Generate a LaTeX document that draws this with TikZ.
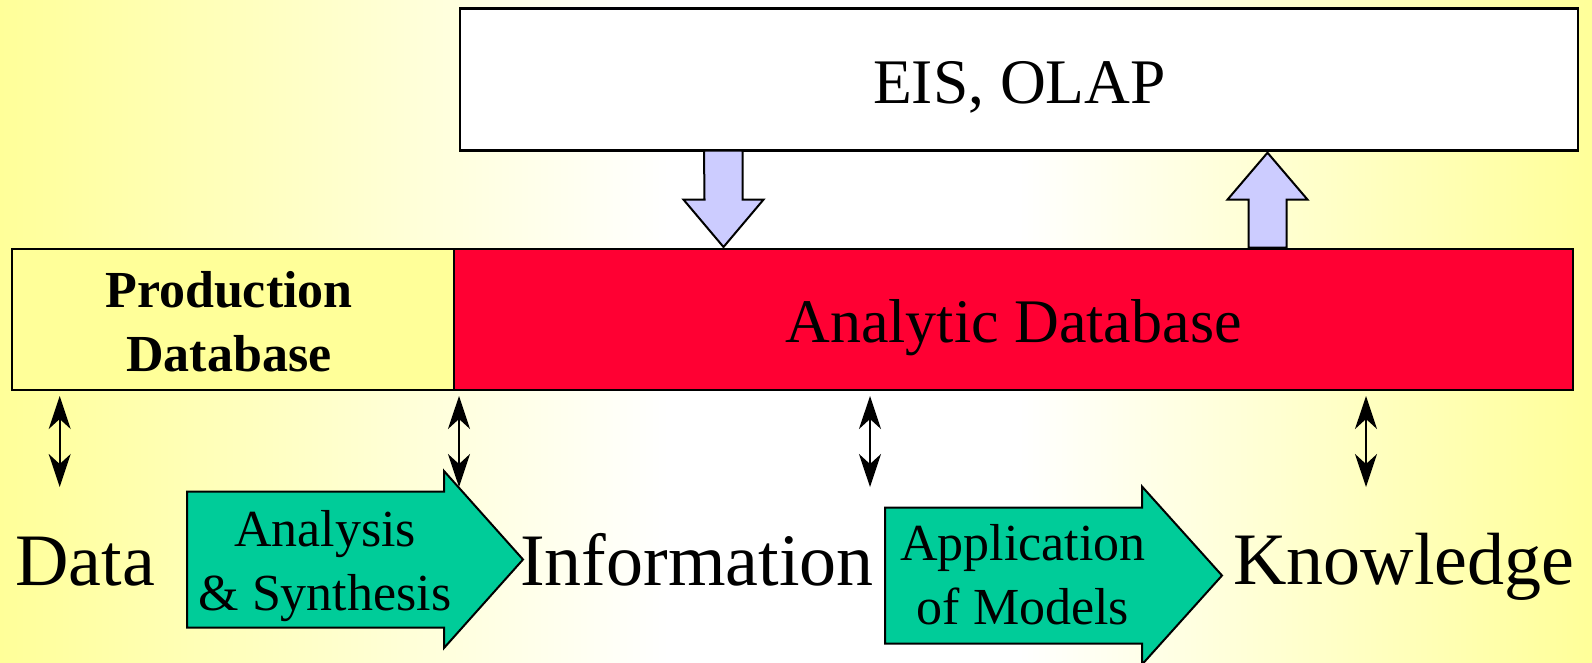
\documentclass[tikz,border=0pt]{standalone}
\usepackage{fontspec}
\setmainfont{Liberation Serif}
\usetikzlibrary{arrows.meta}

\definecolor{bgyellow}{RGB}{255,255,153}
\definecolor{dbred}{RGB}{255,0,51}
\definecolor{flowgreen}{RGB}{0,204,153}
\definecolor{liftblue}{RGB}{204,204,255}

% yellow at both edges, fading to white just right of the middle
\pgfdeclarehorizontalshading{bgfade}{100bp}{%
  color(0bp)=(bgyellow); color(25bp)=(bgyellow);
  color(46bp)=(white); color(57bp)=(white);
  color(75bp)=(bgyellow); color(100bp)=(bgyellow)}

\tikzset{
  box/.style={draw=black, line width=2.4pt, inner sep=0pt},
  bigword/.style={inner sep=0pt, font=\fontsize{74}{74}\selectfont},
  flowtext/.style={inner sep=0pt, align=center, font=\fontsize{52}{64}\selectfont},
  flowarrow/.style={draw=black, line width=2pt, fill=flowgreen, line join=miter},
  liftarrow/.style={draw=black, line width=2pt, fill=liftblue, line join=miter},
  linkarrow/.style={line width=1.8pt, {Stealth[length=33pt,width=22pt,inset=10pt]}-{Stealth[length=33pt,width=22pt,inset=10pt]}}
}

\begin{document}
\begin{tikzpicture}[x=1pt,y=-1pt]
  % background
  \shade[shading=bgfade] (0,0) rectangle (1592,662);
  \useasboundingbox (0,0) rectangle (1592,662);

  % boxes
  \node[box, fill=white, minimum width=1118pt, minimum height=142pt] (eis) at (1019,79.5) {};
  \node[anchor=base, inner sep=0pt, font=\fontsize{63.5}{64}\selectfont] (eistext) at (1019.5,103) {EIS, OLAP};

  \node[box, fill=bgyellow, minimum width=442pt, minimum height=141pt] (prod) at (233,319.5) {};
  \node[box, fill=dbred, minimum width=1119pt, minimum height=141pt] (anal) at (1013.5,319.5) {};
  % multi-line nodes: the base anchor sits on the last line
  \node[anchor=base, inner sep=0pt, align=center, font=\bfseries\fontsize{52}{64}\selectfont] (prodtext) at (229,371) {Production\\Database};
  \node[anchor=base, inner sep=0pt, font=\fontsize{62}{64}\selectfont] (analtext) at (1013.5,342) {Analytic Database};

  % transfer arrows between the analytic database and EIS/OLAP
  \draw[liftarrow] (704,150.6) -- (742.5,150.6) -- (742.5,199.6) -- (763.5,199.6)
      -- (723.5,247) -- (683.5,199.6) -- (704.5,199.6) -- cycle;
  \draw[liftarrow] (1248.5,247.5) -- (1248.5,199.6) -- (1227.5,199.6) -- (1267.5,152.7)
      -- (1307.5,199.6) -- (1286.5,199.6) -- (1286.5,247.5) -- cycle;

  % stage words
  \node[bigword, anchor=base west] (data) at (15,585.5) {Data};
  \node[bigword, anchor=base west] (info) at (520,585) {Information};
  \node[bigword, anchor=base west] (know) at (1233,584) {Knowledge};

  % process arrows
  \draw[flowarrow] (187,491.5) -- (444,491.5) -- (444,471) -- (523,559.5)
      -- (444,648) -- (444,627.5) -- (187,627.5) -- cycle;
  \node[flowtext, anchor=base] (anasyn) at (325,610) {Analysis\\\& Synthesis};

  \draw[flowarrow] (885,507.5) -- (1142,507.5) -- (1142,486.5) -- (1222,575.5)
      -- (1142,664.5) -- (1142,643.5) -- (885,643.5) -- cycle;
  \node[flowtext, anchor=base] (appmod) at (1023,624.5) {Application\\of Models};

  % two-way links between databases and stages
  \coordinate (l1t) at (59.7,396);  \coordinate (l1b) at (59.7,487);
  \coordinate (l2t) at (459,396);   \coordinate (l2b) at (459,487);
  \coordinate (l3t) at (870,396);   \coordinate (l3b) at (870,487);
  \coordinate (l4t) at (1366,396);  \coordinate (l4b) at (1366,487);
  \draw[linkarrow] (l1t) -- (l1b);
  \draw[linkarrow] (l2t) -- (l2b);
  \draw[linkarrow] (l3t) -- (l3b);
  \draw[linkarrow] (l4t) -- (l4b);
\end{tikzpicture}
\end{document}
